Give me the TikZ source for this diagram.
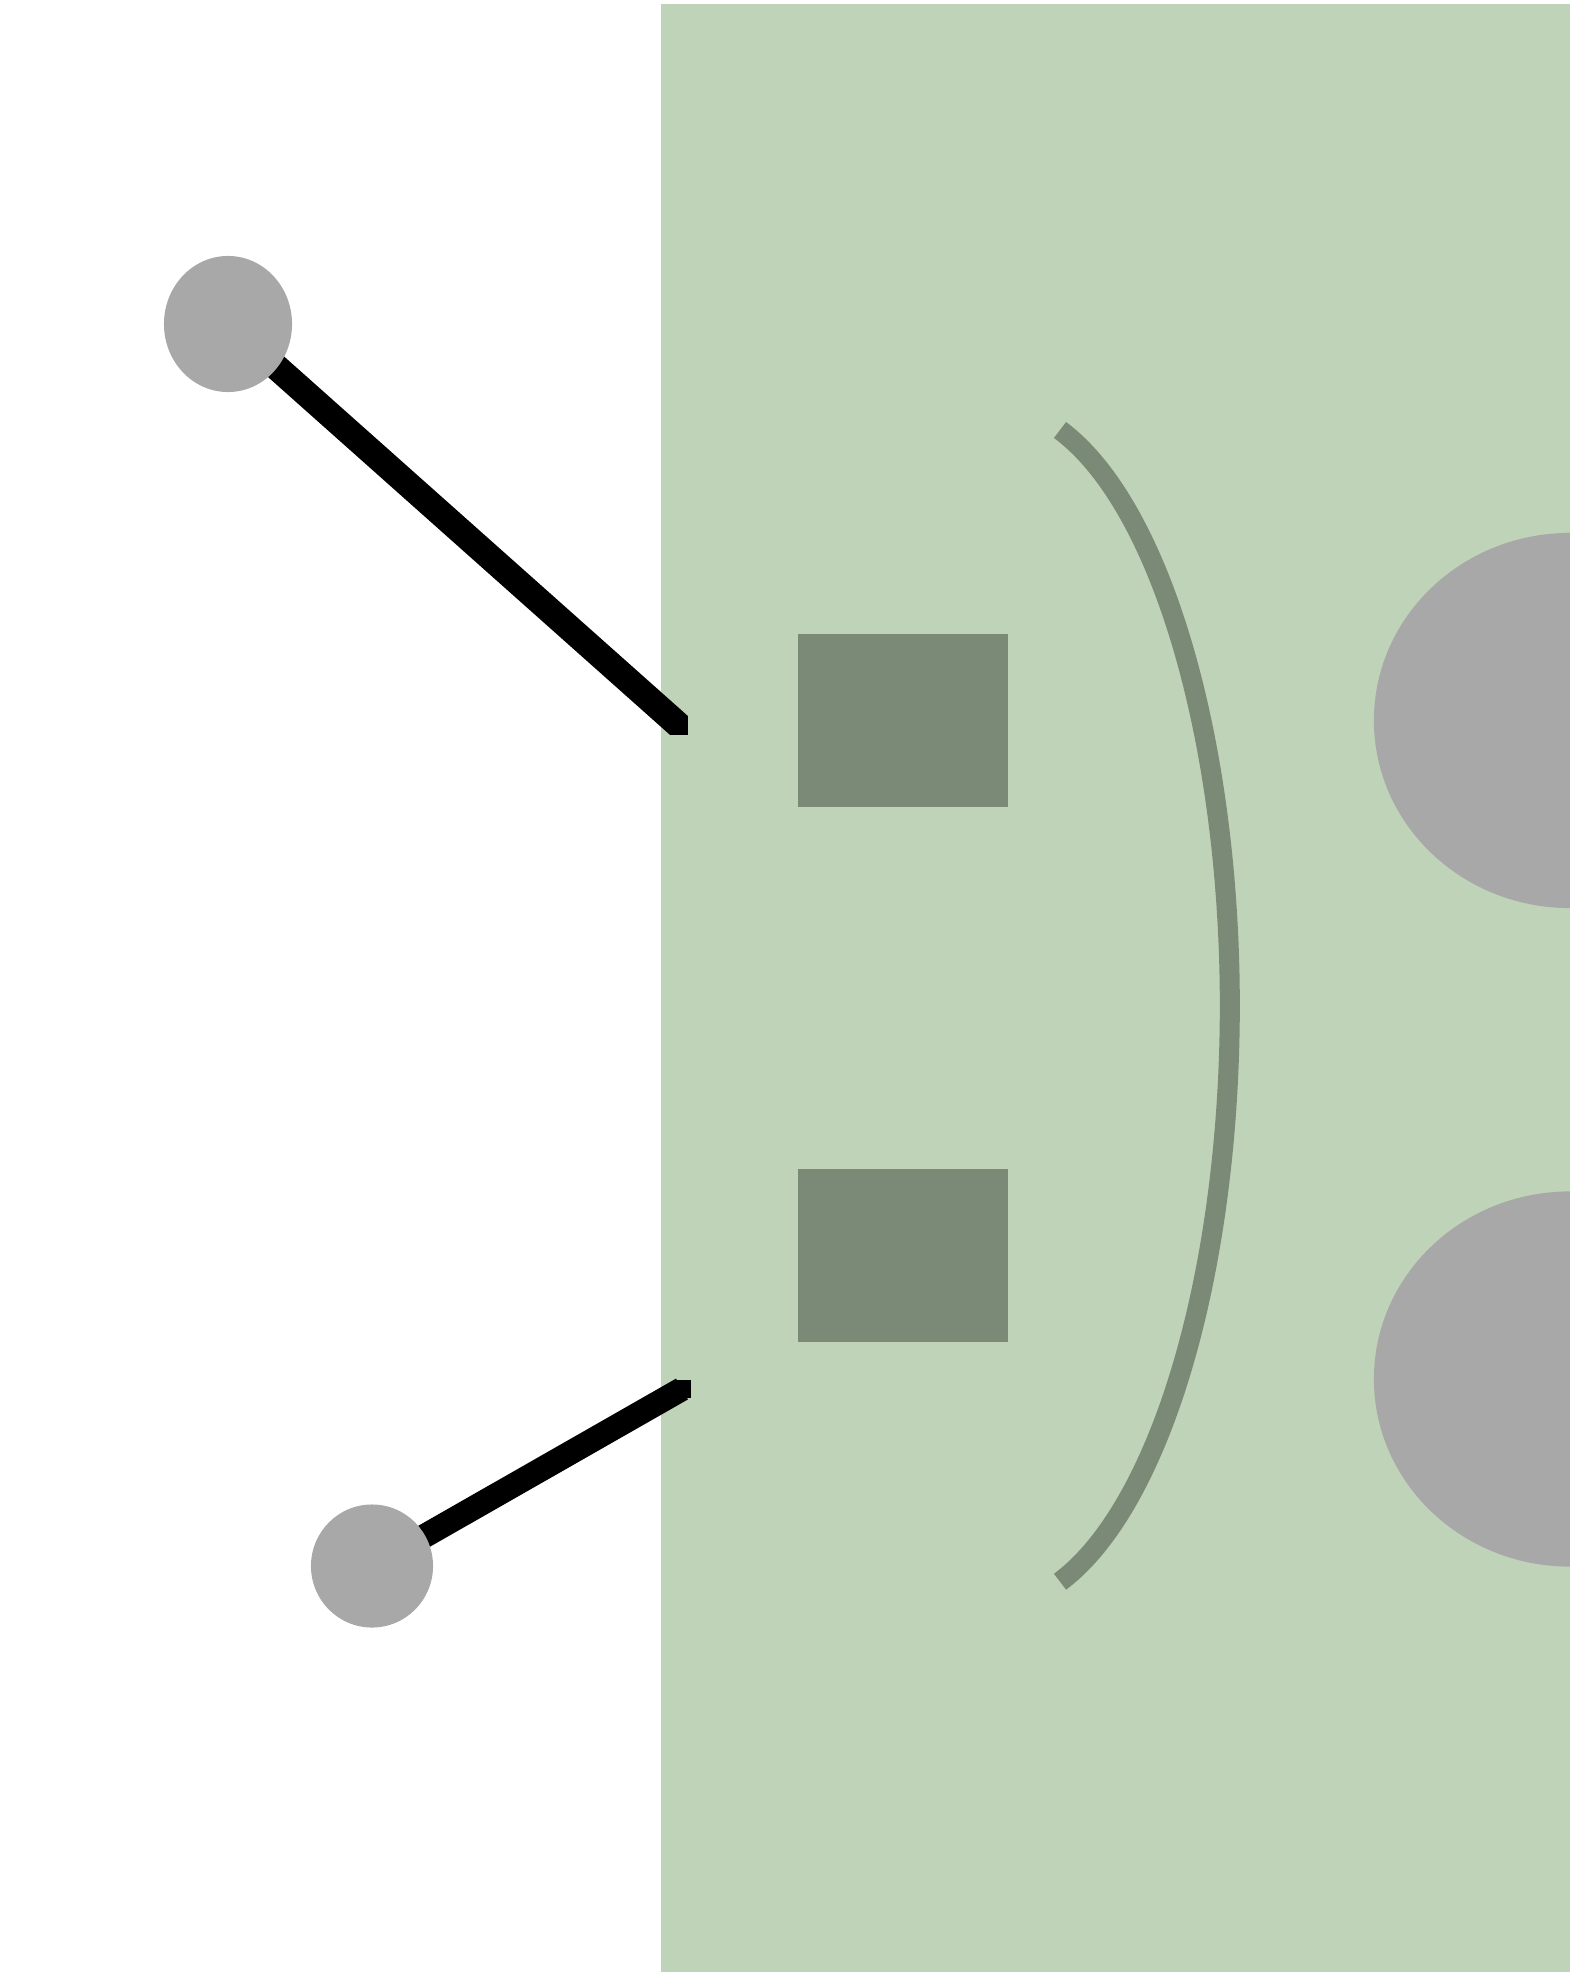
\documentclass[tikz,border=0pt]{standalone}
\usepackage{tikz}
\usetikzlibrary{shapes.geometric}
\definecolor{padgreen}{HTML}{BFD3B8}
\definecolor{darkgreen}{HTML}{7B8977}
\definecolor{pingray}{HTML}{A8A8A8}
\pgfdeclarelayer{bg}
\pgfdeclarelayer{wires}
\pgfsetlayers{bg,wires,main}

\begin{document}
\begin{tikzpicture}[x=0.01cm, y=-0.01cm,
    pin/.style={ellipse, fill=pingray, inner sep=0pt},
    block/.style={rectangle, fill=darkgreen, inner sep=0pt, minimum width=2.1cm, minimum height=1.73cm},
    lobe/.style={ellipse, fill=pingray, inner sep=0pt, minimum width=3.92cm, minimum height=3.75cm},
    port/.style={rectangle, fill=black, inner sep=0pt, minimum size=0.18cm},
    wire/.style={line width=0.24cm, black}]
    \useasboundingbox (0,0) rectangle (1570,1976);
    \begin{pgfonlayer}{bg}
    \fill[white] (0,0) rectangle (1570,1976);
    \fill[padgreen] (661,4) rectangle (1570,1972);
    \end{pgfonlayer}

    \node[block] (b1) at (903,720.5) {};
    \node[block] (b2) at (903,1255.5) {};

    \node[lobe] (l1) at (1570,720.5) {};
    \node[lobe] (l2) at (1570,1379) {};

    \draw[darkgreen, line width=0.2cm] (1060,430) arc[start angle=-73.7, end angle=73.7, x radius=236, y radius=600];

    \node[pin, minimum width=1.28cm, minimum height=1.36cm] (c1) at (228,324) {};
    \node[pin, minimum width=1.22cm, minimum height=1.23cm] (c2) at (372,1566) {};

    \node[port] (p1) at (679,725.5) {};
    \node[port] (p2) at (682,1389) {};

    \begin{pgfonlayer}{wires}
    \draw[wire, line width=0.26cm] (c1.center) -- (p1.center);
    \draw[wire] (c2.center) -- (p2.center);
    \end{pgfonlayer}
\end{tikzpicture}
\end{document}
